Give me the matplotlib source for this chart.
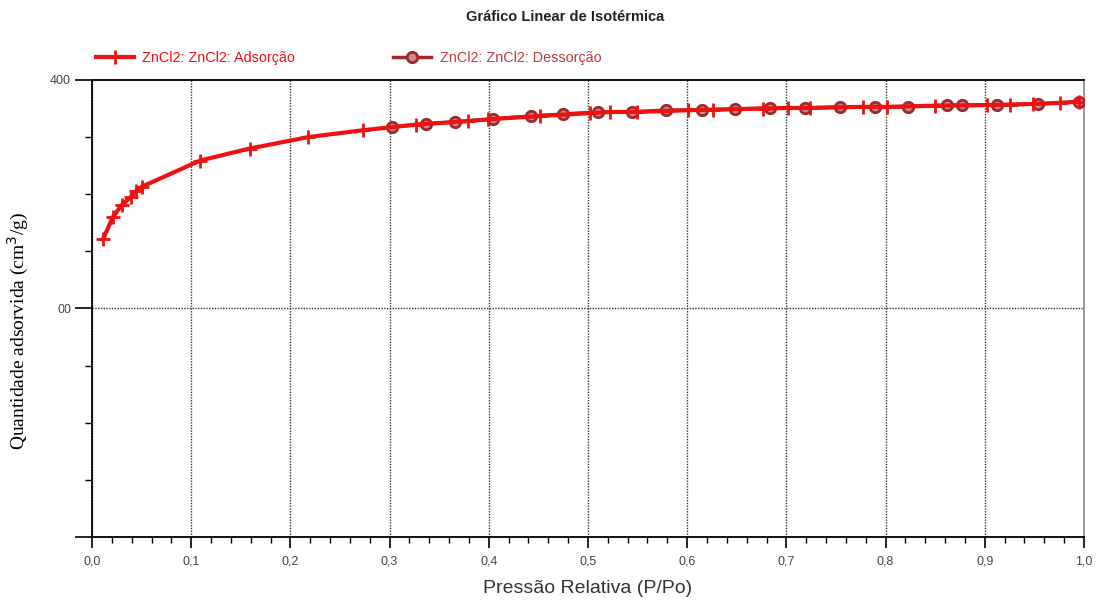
import matplotlib.pyplot as plt
from matplotlib.ticker import MultipleLocator, FixedLocator, FuncFormatter

plt.rcParams['font.family'] = ['Liberation Sans', 'DejaVu Sans']

# Adsorption branch (P/Po, quantity adsorbed)
ads_x = [0.011, 0.021, 0.030, 0.039, 0.044, 0.050, 0.109, 0.159, 0.218, 0.273,
         0.327, 0.379, 0.399, 0.452, 0.502, 0.522, 0.549, 0.601, 0.626, 0.676,
         0.702, 0.724, 0.777, 0.801, 0.850, 0.902, 0.925, 0.949, 0.976, 0.995]
ads_y = [260.5, 280.0, 290.5, 297.5, 302.5, 306.5, 329.5, 340.0, 350.0, 356.0,
         361.0, 364.0, 365.5, 368.5, 371.0, 372.0, 372.0, 373.5, 374.0, 375.0,
         375.5, 375.5, 376.5, 376.5, 377.5, 378.0, 378.5, 379.0, 380.0, 381.0]

# Desorption branch
des_x = [0.995, 0.954, 0.912, 0.877, 0.862, 0.823, 0.789, 0.754, 0.719, 0.683,
         0.648, 0.615, 0.579, 0.544, 0.510, 0.475, 0.443, 0.404, 0.366, 0.337, 0.302]
des_y = [380.8, 379.0, 378.1, 378.1, 378.1, 376.4, 376.4, 376.4, 375.5, 375.5,
         374.6, 373.7, 373.7, 372.0, 372.0, 370.2, 368.5, 365.9, 363.3, 361.5, 358.9]

x_ticks = [0.0, 0.1, 0.2, 0.3, 0.4, 0.5, 0.6, 0.7, 0.8, 0.9, 1.0]
y_major = [0, 200, 400]
y_labels = {400: "400", 200: "00"}

RED = "#ee1111"
DARK = "#9a2a2e"

fig = plt.figure(figsize=(10.98, 6), dpi=100)
ax = fig.add_axes([0.0838, 0.105, 0.9034, 0.7617])

ax.plot(des_x, des_y, '-o', color=DARK, lw=2.5, markersize=7.5, mew=2,
        mfc='#c98a8a', mec=DARK, label='ZnCl2: ZnCl2: Dessorção', zorder=3)
ax.plot(ads_x, ads_y, '-+', color=RED, lw=3, markersize=10, mew=2,
        label='ZnCl2: ZnCl2: Adsorção', zorder=4)

ax.set_xlim(0, 1.0)
ax.set_ylim(0, 400)

ax.xaxis.set_major_locator(FixedLocator(x_ticks))
ax.xaxis.set_minor_locator(MultipleLocator(0.02))
ax.xaxis.set_major_formatter(FuncFormatter(lambda v, p: f"{v:.1f}".replace('.', ',')))
ax.yaxis.set_major_locator(FixedLocator(y_major))
ax.yaxis.set_minor_locator(MultipleLocator(50))
ax.yaxis.set_major_formatter(FuncFormatter(lambda v, p: y_labels.get(int(round(v)), "")))

ax.tick_params(axis='x', which='major', direction='out', length=8, width=1.2,
               labelsize=9, labelcolor='#444444', pad=5)
ax.tick_params(axis='x', which='minor', direction='out', length=4, width=1)
ax.tick_params(axis='y', which='major', direction='out', length=12, width=1.2,
               labelsize=9, labelcolor='#444444', pad=3)
ax.tick_params(axis='y', which='minor', direction='out', length=5, width=1)

ax.grid(True, axis='x', which='major', linestyle=(0, (1, 1)), color='#333333', lw=1)
ax.grid(False, axis='y')
ax.axhline(200, linestyle=(0, (1, 1)), color='#333333', lw=1, zorder=1)

for s in ['left', 'bottom', 'top']:
    ax.spines[s].set_linewidth(1.4)
    ax.spines[s].set_color('#111111')
ax.spines['right'].set_color('#888888')
ax.spines['right'].set_linewidth(1.2)

ax.set_xlabel("Pressão Relativa (P/Po)", fontsize=14, color='#333333')
ax.xaxis.set_label_coords(0.5, -0.095)
ax.set_ylabel("Quantidade adsorvida (cm$^3$/g)", fontsize=14, family='Liberation Serif')
ax.yaxis.set_label_coords(-0.062, 0.45)

fig.text(0.515, 0.972, "Gráfico Linear de Isotérmica", fontsize=10.5, fontweight='bold',
         ha='center', va='center', color='#222222')

handles, labels = ax.get_legend_handles_labels()
leg = ax.legend(handles[::-1], labels[::-1], loc='lower left', bbox_to_anchor=(-0.006, 1.01),
                ncol=2, frameon=False, fontsize=10.4, handlelength=2.6, columnspacing=6.8,
                handletextpad=0.6, borderaxespad=0.3)
for t, c in zip(leg.get_texts(), [RED, "#c23a3e"]):
    t.set_color(c)

plt.savefig("out.png", dpi=100)
